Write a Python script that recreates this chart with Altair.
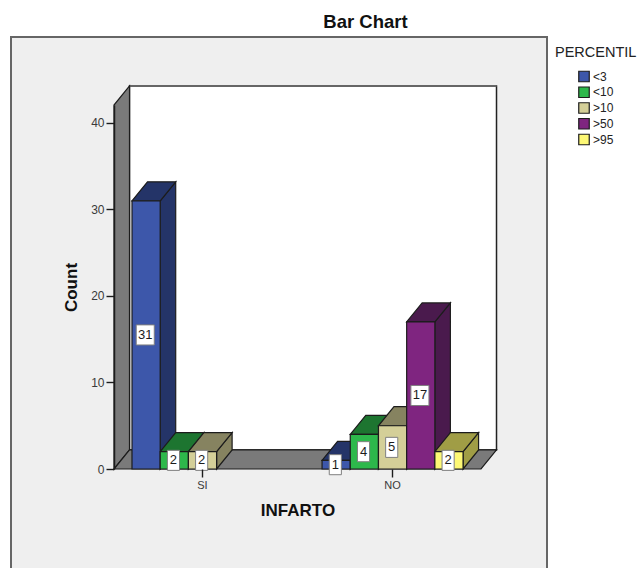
import altair as alt
import pandas as pd

# Counts by INFARTO group and PERCENTIL band
groups = ["SI", "NO"]
bands = ["<3", "<10", ">10", ">50", ">95"]
si_counts = [31, 2, 2, None, None]
no_counts = [1, 4, 5, 17, 2]
group_start = [0.0, 6.74]

face_colors = ["#3d57aa", "#2db84b", "#d4cf98", "#7f2580", "#fdf875"]
shade_colors = ["#243468", "#1d7530", "#868360", "#4a1a4d", "#a09d45"]

# Pseudo-3D extrusion, expressed in axis units
DEPTH_X = 0.55
DEPTH_Y = 2.2
X_MIN, X_MAX = -0.638, 12.376
Y_MAX = 42.08
INK = "#1c1c1c"


def side_face(key, x_edge, low, high):
    """Receding side of a box whose front right edge stands at x_edge."""
    return [
        dict(key=key, x=x_edge, y=low, y2=high),
        dict(key=key, x=x_edge + DEPTH_X, y=low + DEPTH_Y, y2=high + DEPTH_Y),
    ]


def flat_face(key, x0, x1, level):
    """Receding horizontal face (a box top or the floor) behind the edge x0..x1."""
    return [
        dict(key=key, x=x0, y=level, y2=level),
        dict(key=key, x=x0 + DEPTH_X, y=level, y2=level + DEPTH_Y),
        dict(key=key, x=x1, y=level, y2=level + DEPTH_Y),
        dict(key=key, x=x1 + DEPTH_X, y=level + DEPTH_Y, y2=level + DEPTH_Y),
    ]


bars, shades, boxes, labels = [], [], [], []
for g, start, counts in zip(groups, group_start, [si_counts, no_counts]):
    for i, (band, value) in enumerate(zip(bands, counts)):
        if value is None:
            continue
        x0, x1 = start + i, start + i + 1
        bars.append(dict(band=band, x=x0, x2=x1, y=0, y2=value))
        # side face, then top face, going left to right
        for row in side_face(f"{g}{band}s", x1, 0, value) + flat_face(f"{g}{band}t", x0, x1, value):
            shades.append(dict(row, band=band))
        half = 0.32 if value >= 10 else 0.215
        centre = (x0 + x1) / 2 - 0.03
        boxes.append(dict(x=centre - half, x2=centre + half,
                          y=value / 2 - 1.16, y2=value / 2 + 1.16))
        labels.append(dict(x=centre, y=value / 2, label=str(value)))

x_enc = alt.X(
    "x:Q",
    scale=alt.Scale(domain=[X_MIN, X_MAX], nice=False, zero=False),
    axis=alt.Axis(
        title="INFARTO", values=[2.48, 9.22], grid=False, domain=False,
        labelExpr="datum.value < 5 ? 'SI' : 'NO'", tickSize=8, tickColor=INK,
        tickWidth=1.4, labelFontSize=11, labelColor="#3a3a3a", labelPadding=2,
        labelFont="Liberation Sans", titleFont="Liberation Sans", titleFontSize=17,
        titleFontWeight="bold", titleColor="#111111", titlePadding=12, zindex=1,
    ),
)
y_enc = alt.Y(
    "y:Q",
    stack=None,
    scale=alt.Scale(domain=[0, Y_MAX], nice=False, zero=False),
    axis=alt.Axis(
        title="Count", values=[0, 10, 20, 30, 40], grid=False, format="d",
        tickSize=8, tickColor=INK, tickWidth=1.4, domainColor=INK, domainWidth=1.5,
        labelFontSize=12, labelColor="#3a3a3a", labelPadding=2,
        labelFont="Liberation Sans", titleFont="Liberation Sans", titleFontSize=17,
        titleFontWeight="bold", titleColor="#111111", titlePadding=10, zindex=1,
    ),
)
x2_enc = alt.X2("x2:Q")
y2_enc = alt.Y2("y2:Q")

# Surrounding chart frame; it runs on past the lower edge of the page
frame = alt.Chart(pd.DataFrame({"x": [0]})).mark_rect(
    fill="#efefef", stroke="#666666", strokeWidth=2
).encode(
    x=alt.value(-103), x2=alt.value(433), y=alt.value(-68), y2=alt.value(520)
)

back_left, back_right = X_MIN + DEPTH_X, X_MAX + DEPTH_X
back_top = Y_MAX + DEPTH_Y
back_wall = alt.Chart(
    pd.DataFrame([dict(x=back_left, x2=back_right, y=DEPTH_Y, y2=back_top)])
).mark_rect(fill="white", stroke="#222222", strokeWidth=1.5).encode(
    x=x_enc, x2=x2_enc, y=y_enc, y2=y2_enc
)

# The upper edge of the back wall is lighter than its sides
wall_top = alt.Chart(
    pd.DataFrame([dict(x=back_left, x2=back_right, y=back_top)])
).mark_rule(color="#666666", strokeWidth=2).encode(x=x_enc, x2=x2_enc, y=y_enc)

wall_rows = side_face("left", X_MIN, 0, Y_MAX) + flat_face("floor", X_MIN, X_MAX, 0)
walls = alt.Chart(pd.DataFrame(wall_rows)).mark_area(
    fill="#7a7a7a", stroke=INK, strokeWidth=1.2
).encode(x=x_enc, y=y_enc, y2=y2_enc, detail="key:N")

shade_layer = alt.Chart(pd.DataFrame(shades)).mark_area(
    stroke=INK, strokeWidth=1.2, opacity=1
).encode(
    x=x_enc, y=y_enc, y2=y2_enc, detail="key:N",
    fill=alt.Fill(
        "band:N",
        scale=alt.Scale(domain=bands, range=shade_colors),
        legend=None,
    ),
)

front_layer = alt.Chart(pd.DataFrame(bars)).mark_rect(
    stroke=INK, strokeWidth=1.2
).encode(
    x=x_enc, x2=x2_enc, y=y_enc, y2=y2_enc,
    color=alt.Color(
        "band:N",
        scale=alt.Scale(domain=bands, range=face_colors),
        legend=alt.Legend(
            title="PERCENTIL", orient="none", legendX=441, legendY=-59,
            titleFontSize=14.5, titleFontWeight="normal", titleColor="#222222",
            titleFont="Liberation Sans", titleLimit=100, titlePadding=9,
            labelFont="Liberation Sans", labelFontSize=12, labelColor="#222222",
            labelOffset=3, symbolType="square", symbolSize=110,
            symbolStrokeColor=INK, symbolStrokeWidth=1.2, symbolOffset=23,
            rowPadding=1.75, clipHeight=14,
        ),
    ),
)

label_boxes = alt.Chart(pd.DataFrame(boxes)).mark_rect(
    fill="white", stroke="#7f7f7f", strokeWidth=1
).encode(x=x_enc, x2=x2_enc, y=y_enc, y2=y2_enc)

label_text = alt.Chart(pd.DataFrame(labels)).mark_text(
    font="Liberation Sans", fontSize=13, color="#1c1c1c"
).encode(x=x_enc, y=y_enc, text="label:N")

chart = alt.layer(
    frame, back_wall, wall_top, walls, shade_layer, front_layer, label_boxes, label_text
).resolve_scale(color="independent", fill="independent").properties(
    width=367,
    height=364,
    padding={"left": 114, "top": 105, "right": 158, "bottom": 99},
    autosize=alt.AutoSizeParams(type="none"),
    background="white",
    title=alt.TitleParams(
        "Bar Chart", font="Liberation Sans", fontSize=18.5, fontWeight="bold",
        color="#111111", anchor="middle", dx=68, offset=5,
    ),
).configure_view(stroke=None)

chart.save("out.html", embed_options={"renderer": "svg", "actions": False})
